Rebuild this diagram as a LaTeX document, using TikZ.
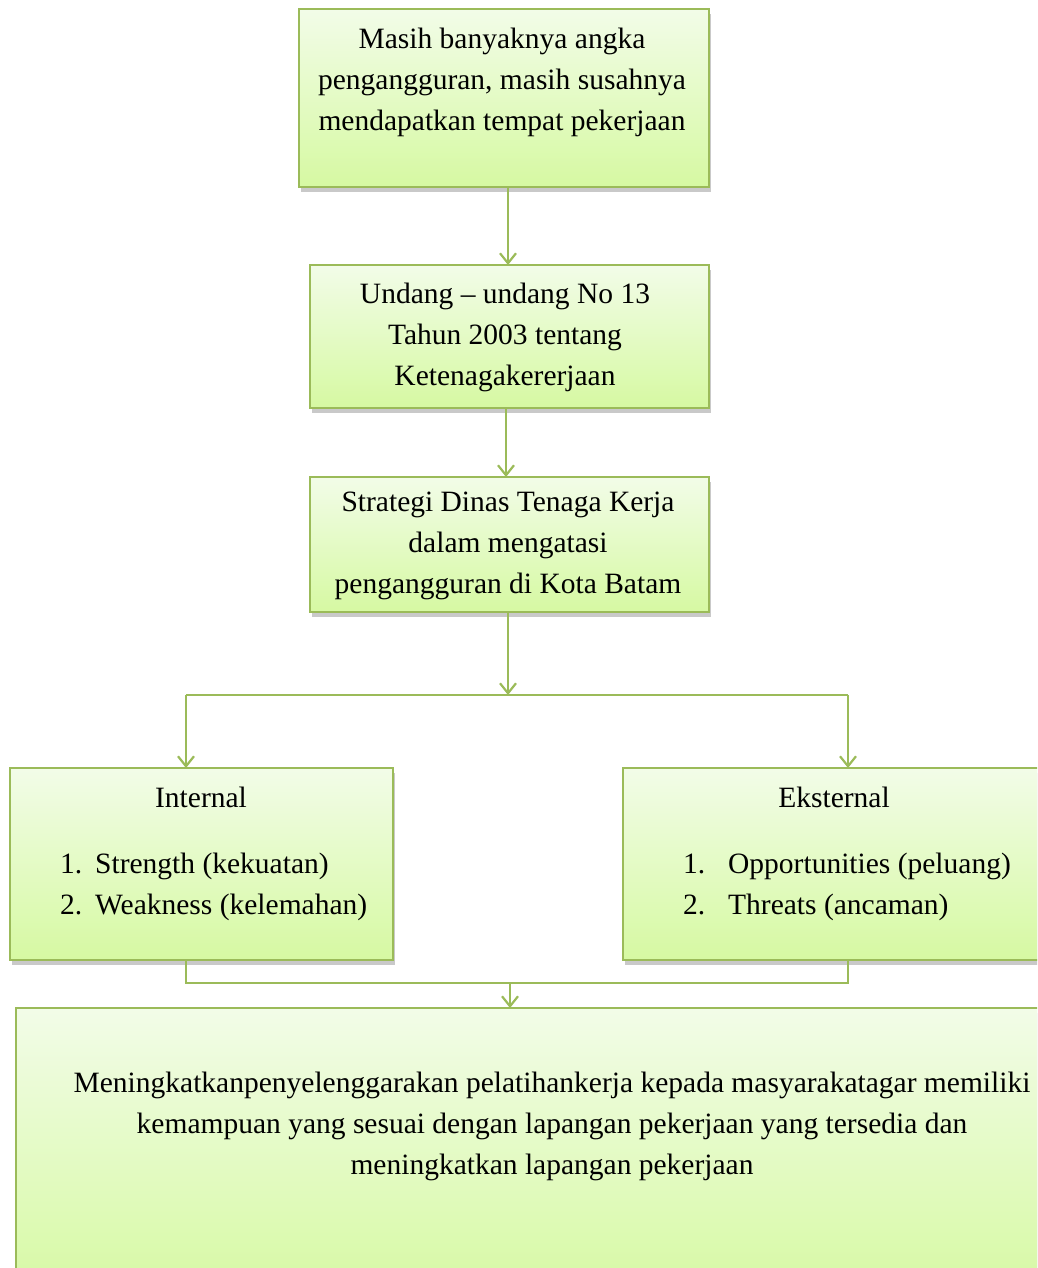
\documentclass[tikz,border=0pt]{standalone}
\usepackage{fontspec}
\setmainfont{Liberation Serif}
\usetikzlibrary{arrows.meta,shadows}
\definecolor{hijautepi}{RGB}{155,187,89}
\definecolor{hijauatas}{RGB}{242,252,232}
\definecolor{hijaubawah}{RGB}{214,249,162}
\tikzset{
  kotak/.style={rectangle,draw=hijautepi,line width=2.2pt,top color=hijauatas,bottom color=hijaubawah,
    inner sep=0pt,outer sep=0pt,
    drop shadow={shadow xshift=2pt,shadow yshift=-5pt,opacity=0.3,fill=black!70}},
  teks/.style={align=center,inner sep=0pt,font=\fontsize{29.5}{41}\selectfont},
  garis/.style={draw=hijautepi,line width=2.2pt},
  panah/.style={garis,-{Straight Barb[length=10pt,width=16pt]}}
}
\begin{document}
\begin{tikzpicture}[x=1pt,y=1pt]
\useasboundingbox (0,0) rectangle (1037,-1268);
\clip (0,0) rectangle (1037,-1268);
\node(masalah) at (504,-98)[kotak,minimum width=410pt,minimum height=178pt]{};
\node(uu) at (509.5,-336.5)[kotak,minimum width=399pt,minimum height=143pt]{};
\node(strategi) at (509.5,-544.5)[kotak,minimum width=399pt,minimum height=135pt]{};
\node(internal) at (201.5,-864)[kotak,minimum width=383pt,minimum height=192pt]{};
\node(eksternal) at (834,-864)[kotak,minimum width=422pt,minimum height=192pt]{};
\node(hasil) at (552,-1154)[kotak,minimum width=1072pt,minimum height=292pt]{};

\node(tmasalah) at (502,-82)[teks]{Masih banyaknya angka\\pengangguran, masih susahnya\\mendapatkan tempat pekerjaan};
\node(tuu) at (505,-337)[teks]{Undang – undang No 13\\Tahun 2003 tentang\\Ketenagakererjaan};
\node(tstrategi) at (508,-546)[teks]{Strategi Dinas Tenaga Kerja\\dalam mengatasi\\pengangguran di Kota Batam};
\node(tinternal) at (201,-797)[teks]{Internal};
\node(linternal) at (60,-887)[teks,align=left,anchor=west]{\makebox[35pt][l]{1.}Strength (kekuatan)\\\makebox[35pt][l]{2.}Weakness (kelemahan)};
\node(teksternal) at (834,-797)[teks]{Eksternal};
\node(leksternal) at (683,-887)[teks,align=left,anchor=west]{\makebox[45pt][l]{1.}Opportunities (peluang)\\\makebox[45pt][l]{2.}Threats (ancaman)};
\node(thasil) at (552,-1126)[teks]{Meningkatkanpenyelenggarakan pelatihankerja kepada masyarakatagar memiliki\\kemampuan yang sesuai dengan lapangan pekerjaan yang tersedia dan\\meningkatkan lapangan pekerjaan};

\coordinate(cabang) at (508,-695);
\coordinate(kiri) at (186,-695);
\coordinate(kanan) at (848,-695);
\coordinate(kiribawah) at (186,-983);
\coordinate(kananbawah) at (848,-983);
\coordinate(gabung) at (510,-983);

\draw[panah] (masalah.south -| 508,0) -- (uu.north -| 508,0);
\draw[panah] (uu.south -| 506,0) -- (strategi.north -| 506,0);
\draw[panah] (strategi.south -| cabang) -- (cabang);
\draw[garis] (kiri) -- (kanan);
\draw[panah] (kiri) -- (kiri |- internal.north);
\draw[panah] (kanan) -- (kanan |- eksternal.north);
\draw[garis] (kiri |- internal.south) -- (kiribawah) -- (kananbawah) -- (kanan |- eksternal.south);
\draw[panah] (gabung) -- (gabung |- hasil.north);
\end{tikzpicture}
\end{document}
